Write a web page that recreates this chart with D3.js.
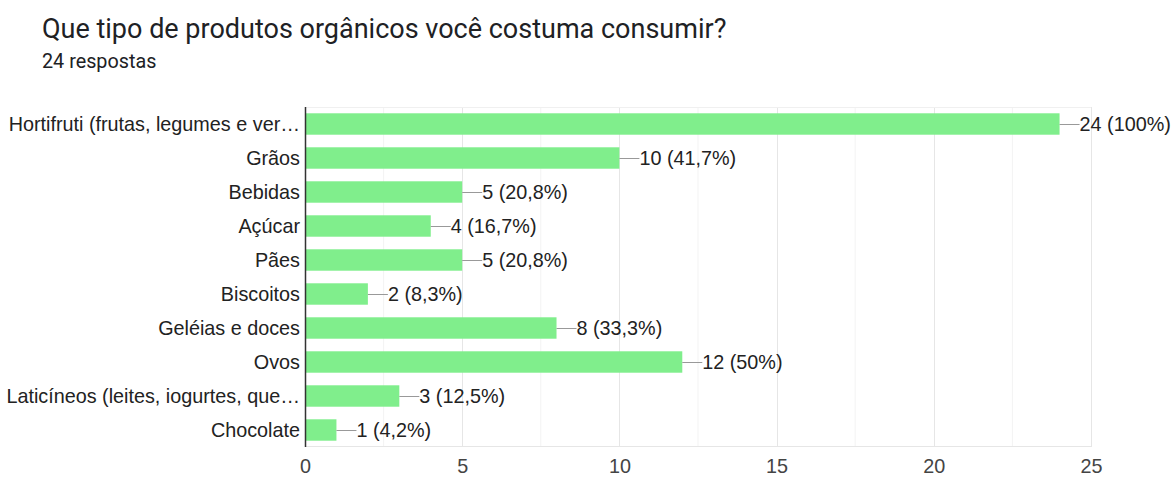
<!DOCTYPE html>
<html>
<head>
  <meta charset="utf-8">
  <title>Que tipo de produtos orgânicos você costuma consumir?</title>
  <script src="https://d3js.org/d3.v7.min.js"></script>
  <style>
    body { margin: 0; background: #fff; }
  </style>
</head>
<body>

<div id="chart"></div>

<script>
// data
const categories = [
  "Hortifruti (frutas, legumes e ver…",
  "Grãos",
  "Bebidas",
  "Açúcar",
  "Pães",
  "Biscoitos",
  "Geléias e doces",
  "Ovos",
  "Laticíneos (leites, iogurtes, que…",
  "Chocolate"
];
const counts = [24, 10, 5, 4, 5, 2, 8, 12, 3, 1];
const percents = ["100%", "41,7%", "20,8%", "16,7%", "20,8%", "8,3%", "33,3%", "50%", "12,5%", "4,2%"];
const xTicks = [0, 5, 10, 15, 20, 25];

const W = 1171, H = 478;
const margin = { top: 107, right: 80, bottom: 31, left: 305 };
const width = W - margin.left - margin.right;   // 786
const height = H - margin.top - margin.bottom;  // 340
const labelFont = "Arial, 'Liberation Sans', sans-serif";

const svg = d3.select("#chart")
  .append("svg")
  .attr("width", W)
  .attr("height", H);

// title + subtitle
svg.append("text")
  .attr("x", 42).attr("y", 38)
  .attr("font-family", "Roboto, 'Open Sans', sans-serif")
  .attr("font-size", 27)
  .attr("fill", "#202124")
  .text("Que tipo de produtos orgânicos você costuma consumir?");

svg.append("text")
  .attr("x", 42).attr("y", 68)
  .attr("font-family", "Roboto, sans-serif")
  .attr("font-size", 19.8)
  .attr("fill", "#202124")
  .text("24 respostas");

const g = svg.append("g")
  .attr("transform", `translate(${margin.left},${margin.top})`);

const x = d3.scaleLinear().domain([0, 25]).range([0, width]);
const y = d3.scaleBand().domain(categories).range([0, height]).paddingInner(0.37).paddingOuter(0.185);

// minor gridlines
g.selectAll(".minor")
  .data(d3.range(2.5, 25, 5))
  .enter().append("line")
  .attr("x1", d => x(d)).attr("x2", d => x(d))
  .attr("y1", 0).attr("y2", height)
  .attr("stroke", "#f3f3f3").attr("stroke-width", 1);

// major gridlines
g.selectAll(".major")
  .data(xTicks.slice(1))
  .enter().append("line")
  .attr("x1", d => Math.round(x(d)) + 0.5).attr("x2", d => Math.round(x(d)) + 0.5)
  .attr("y1", 0).attr("y2", height)
  .attr("stroke", "#e6e6e6").attr("stroke-width", 1);

// top / bottom borders
g.append("line")
  .attr("x1", 0).attr("x2", width).attr("y1", 0.5).attr("y2", 0.5)
  .attr("stroke", "#f0f0f0");
g.append("line")
  .attr("x1", 0).attr("x2", width).attr("y1", height - 0.5).attr("y2", height - 0.5)
  .attr("stroke", "#e6e6e6");

// bars
g.selectAll(".bar")
  .data(categories)
  .enter().append("rect")
  .attr("x", 0)
  .attr("y", d => y(d))
  .attr("width", (d, i) => x(counts[i]))
  .attr("height", y.bandwidth())
  .attr("fill", "#80ee8c");

// leader lines + value labels
const lbl = g.selectAll(".val")
  .data(categories)
  .enter().append("g")
  .attr("transform", (d, i) => `translate(${x(counts[i])},${y(d) + y.bandwidth() / 2})`);

lbl.append("line")
  .attr("x1", 0).attr("x2", 20)
  .attr("y1", 0.5).attr("y2", 0.5)
  .attr("stroke", "#999").attr("stroke-width", 1);

lbl.append("text")
  .attr("x", 20)
  .attr("dy", "0.36em")
  .attr("font-family", labelFont)
  .attr("font-size", 19.8)
  .attr("fill", "#222")
  .text((d, i) => `${counts[i]} (${percents[i]})`);

// category labels
g.selectAll(".cat")
  .data(categories)
  .enter().append("text")
  .attr("x", -5)
  .attr("y", d => y(d) + y.bandwidth() / 2)
  .attr("dy", "0.36em")
  .attr("text-anchor", "end")
  .attr("font-family", labelFont)
  .attr("font-size", 19.8)
  .attr("fill", "#222")
  .text(d => d);

// y axis line
g.append("line")
  .attr("x1", 0.5).attr("x2", 0.5)
  .attr("y1", 0).attr("y2", height)
  .attr("stroke", "#333").attr("stroke-width", 1.5);

// x axis tick labels
const xAxis = g.append("g")
  .attr("transform", `translate(0,${height})`)
  .call(d3.axisBottom(x).tickValues(xTicks).tickSize(0).tickPadding(12));
xAxis.select(".domain").remove();
xAxis.selectAll("text")
  .attr("font-family", labelFont)
  .attr("font-size", 19.8)
  .attr("fill", "#444");
</script>

</body>
</html>
